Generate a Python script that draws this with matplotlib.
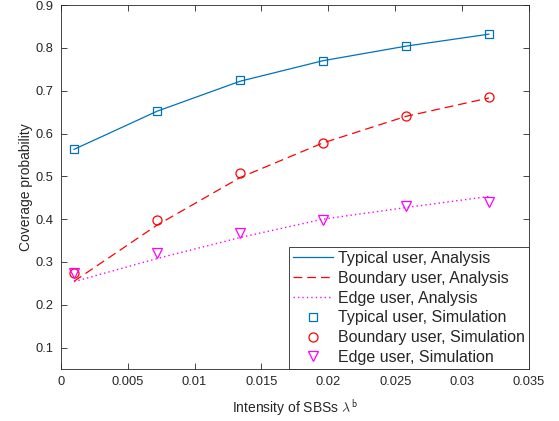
import numpy as np
import matplotlib.pyplot as plt

plt.rcParams['font.family'] = ['Liberation Sans', 'DejaVu Sans']
plt.rcParams['mathtext.fontset'] = 'cm'

# intensity of small base stations
lam = [0.001, 0.0072, 0.0134, 0.0196, 0.0258, 0.032]

# analytical coverage probability
typ_ana = [0.563, 0.652, 0.722, 0.770, 0.804, 0.832]
bnd_ana = [0.255, 0.386, 0.497, 0.578, 0.640, 0.683]
edg_ana = [0.254, 0.308, 0.357, 0.400, 0.427, 0.453]

# simulated coverage probability
typ_sim = [0.564, 0.653, 0.725, 0.769, 0.804, 0.832]
bnd_sim = [0.275, 0.398, 0.507, 0.578, 0.642, 0.686]
edg_sim = [0.274, 0.320, 0.368, 0.398, 0.430, 0.440]

xticks = [0, 0.005, 0.01, 0.015, 0.02, 0.025, 0.03, 0.035]
yticks = [0.1, 0.2, 0.3, 0.4, 0.5, 0.6, 0.7, 0.8, 0.9]

blue = '#0072BD'
fig = plt.figure(figsize=(5.59, 4.21), dpi=100)
ax = fig.add_axes([0.1086, 0.1235, 0.8377, 0.8645])

ax.plot(lam, typ_ana, '-', color=blue, lw=0.9, label='Typical user, Analysis')
ax.plot(lam, bnd_ana, '--', color='red', lw=0.9, dashes=(7, 4), label='Boundary user, Analysis')
ax.plot(lam, edg_ana, ':', color='magenta', lw=1.0, dashes=(1, 2.2), label='Edge user, Analysis')
ax.plot(lam, typ_sim, 's', color=blue, mfc='none', ms=5.5, mew=0.9, label='Typical user, Simulation')
ax.plot(lam, bnd_sim, 'o', color='red', mfc='none', ms=6.5, mew=0.9, label='Boundary user, Simulation')
ax.plot(lam, edg_sim, 'v', color='magenta', mfc='none', ms=7.5, mew=0.9, label='Edge user, Simulation')

ax.set_xlim(0, 0.035)
ax.set_ylim(0.05, 0.9)
ax.set_xticks(xticks)
ax.set_xticklabels(['0', '0.005', '0.01', '0.015', '0.02', '0.025', '0.03', '0.035'])
ax.set_yticks(yticks)
ax.set_yticklabels(['0.1', '0.2', '0.3', '0.4', '0.5', '0.6', '0.7', '0.8', '0.9'])
ax.tick_params(direction='in', top=True, right=True, length=4, width=0.6,
               color='#262626', labelcolor='#262626', labelsize=9.3, pad=5)
for s in ax.spines.values():
    s.set_color('#262626')
    s.set_linewidth(0.6)

ax.set_xlabel(r'Intensity of SBSs $\lambda^{\mathsf{b}}$', fontsize=10, color='#262626', labelpad=7)
ax.set_ylabel('Coverage probability', fontsize=10, color='#262626', labelpad=2)

leg = ax.legend(loc='lower right', borderaxespad=0, fancybox=False, edgecolor='#262626',
                fontsize=11.5, handlelength=2.55, handletextpad=0.3, labelspacing=0.3,
                borderpad=0.25, framealpha=1)
leg.get_frame().set_linewidth(0.6)
for t in leg.get_texts():
    t.set_color('#262626')

fig.savefig('out.png', dpi=100)
